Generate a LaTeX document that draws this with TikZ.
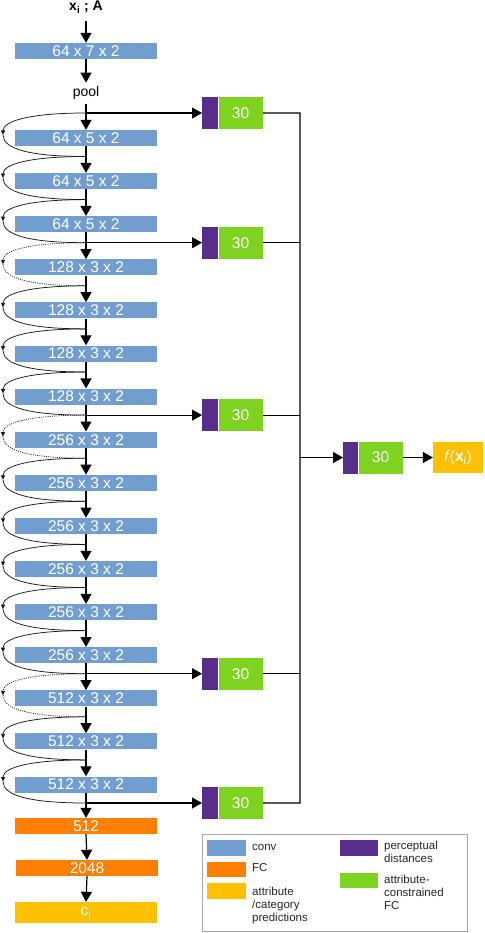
\documentclass[tikz,border=0pt]{standalone}
\usepackage{fontspec}
\setmainfont{Liberation Sans}
\usetikzlibrary{arrows.meta}
\definecolor{convblue}{RGB}{114,158,207}
\definecolor{fcorange}{RGB}{255,128,0}
\definecolor{predyellow}{RGB}{255,192,0}
\definecolor{pdpurple}{RGB}{88,46,140}
\definecolor{acgreen}{RGB}{126,211,33}
\begin{document}
\begin{tikzpicture}[x=1pt,y=-1pt,
  boxlbl/.style={text=white,font=\fontsize{15.5}{17}\selectfont,inner sep=0pt},
  convbox/.style={boxlbl,fill=convblue,minimum width=142pt,minimum height=16pt},
  fcbox/.style={boxlbl,fill=fcorange,minimum width=142pt,minimum height=16pt},
  predbox/.style={boxlbl,fill=predyellow,minimum width=142pt,minimum height=21pt},
  fxbox/.style={boxlbl,fill=predyellow,minimum width=50pt,minimum height=31pt},
  pdbox/.style={fill=pdpurple,minimum width=16pt,minimum height=32pt,inner sep=0pt},
  acbox/.style={boxlbl,fill=acgreen,minimum width=44pt,minimum height=32pt},
  mainarr/.style={line width=1.2pt,-{Triangle[width=11pt,length=10pt]}},
  link/.style={line width=1.1pt},
  skiparc/.style={line width=0.75pt,black!90},
  dotarc/.style={dash pattern=on 1pt off 1.2pt},
  skiptip/.style={-{Triangle[width=4pt,length=4.5pt]}},
  legtext/.style={text=black!85,font=\fontsize{11.5}{13}\selectfont,inner sep=0pt,align=left},
  swatch/.style={minimum width=39pt,minimum height=16pt,inner sep=0pt},
]
\useasboundingbox (0,0) rectangle (484,933);

% input and first layers
\node[font=\bfseries\fontsize{14}{16}\selectfont,inner xsep=0pt,inner ysep=8pt,anchor=base] (in) at (86,11) {x\textsubscript{i} ; A};
\node[convbox] (c0) at (86,51) {64 x 7 x 2};
\node[font=\fontsize{14}{16}\selectfont,inner ysep=4pt,anchor=base] (pool) at (86,97) {pool};
\coordinate (j0) at (86,113);

% residual conv blocks
\foreach \k/\lab in {1/64 x 5 x 2,2/64 x 5 x 2,3/64 x 5 x 2,
  4/128 x 3 x 2,5/128 x 3 x 2,6/128 x 3 x 2,7/128 x 3 x 2,
  8/256 x 3 x 2,9/256 x 3 x 2,10/256 x 3 x 2,11/256 x 3 x 2,12/256 x 3 x 2,13/256 x 3 x 2,
  14/512 x 3 x 2,15/512 x 3 x 2,16/512 x 3 x 2} {
  \node[convbox] (b\k) at (86,{138+43.1*(\k-1)}) {\lab};
  \coordinate (j\k) at (86,{156.5+43.1*(\k-1)});
  \coordinate (l\k) at (3,{135+43.1*(\k-1)});
}

% fully connected layers
\node[fcbox] (fc1) at (86,826) {512};
\node[fcbox] (fc2) at (87,868) {2048};
\node[predbox] (ci) at (86,912.5) {c\textsubscript{i}};

% main vertical arrows
\draw[mainarr] (in.south) -- (c0.north);
\draw[mainarr] (c0.south) -- (pool.north);
\draw[mainarr] (pool.south) -- (b1.north);
\foreach \p/\k in {1/2,2/3,3/4,4/5,5/6,6/7,7/8,8/9,9/10,10/11,11/12,12/13,13/14,14/15,15/16}
  \draw[mainarr] (b\p.south) -- (b\k.north);
\draw[mainarr] (b16.south) -- (fc1.north);
\draw[mainarr] (fc1.south) -- (fc2.north);
\draw[mainarr] (fc2.south) -- (ci.north);

% skip connections
\foreach \p/\k/\st in {0/1/solid,1/2/solid,2/3/solid,3/4/dotarc,4/5/solid,5/6/solid,6/7/solid,
  7/8/dotarc,8/9/solid,9/10/solid,10/11/solid,11/12/solid,12/13/solid,
  13/14/dotarc,14/15/solid,15/16/solid} {
  \draw[skiparc,\st,skiptip] (j\p) .. controls +(-56,0) and +(0,-14) .. (l\k);
  \draw[skiparc,\st] (l\k) .. controls +(0,14) and +(-56,0) .. (j\k);
}

% side branches
\coordinate (rtop) at (300,113);
\coordinate (rbot) at (300,803);
\foreach \r/\j in {1/0,2/3,3/7,4/13,5/16} {
  \node[pdbox,anchor=west] (p\r) at ([xshift=116pt]j\j) {};
  \node[acbox,anchor=west] (g\r) at (p\r.east) {30};
  \draw[mainarr] (j\j) -- (p\r.west);
}
\draw[link] (g1.east) -- (rtop) -- (rbot) -- (g5.east);
\foreach \r in {2,3,4}
  \draw[link] (g\r.east) -- (g\r.east -| rtop);

% merged output
\node[pdbox,minimum width=15pt,anchor=west] (pm) at (343,457.5) {};
\node[acbox,anchor=west] (gm) at (pm.east) {30};
\node[fxbox] (fx) at (458,457.5) {\textit{f}(\textbf{x}\textsubscript{i})};
\draw[mainarr] (pm.west -| rtop) -- (pm.west);
\draw[mainarr] (gm.east) -- (fx.west);

% legend
\node[draw=black!35,line width=0.8pt,minimum width=265pt,minimum height=97pt,inner sep=0pt,anchor=north west] (leg) at (202,834) {};
\node[swatch,fill=convblue] (s1) at (226.5,848) {};
\node[swatch,fill=fcorange,minimum height=15pt] (s2) at (226.5,869.5) {};
\node[swatch,fill=predyellow] (s3) at (226.5,891) {};
\node[swatch,fill=pdpurple,minimum width=38pt] (s4) at (359,848) {};
\node[swatch,fill=acgreen,minimum width=38pt,minimum height=15pt] (s5) at (359,880.5) {};
\node[legtext,anchor=base west] (t1) at (252,850) {conv};
\node[legtext,anchor=base west] (t2) at (252,871.5) {FC};
\node[legtext,anchor=north west] (t3) at (252,886.7) {attribute\\/category\\predictions};
\node[legtext,anchor=north west] (t4) at (384,840.7) {perceptual\\distances};
\node[legtext,anchor=north west] (t5) at (384,875) {attribute-\\constrained\\FC};
\end{tikzpicture}
\end{document}
